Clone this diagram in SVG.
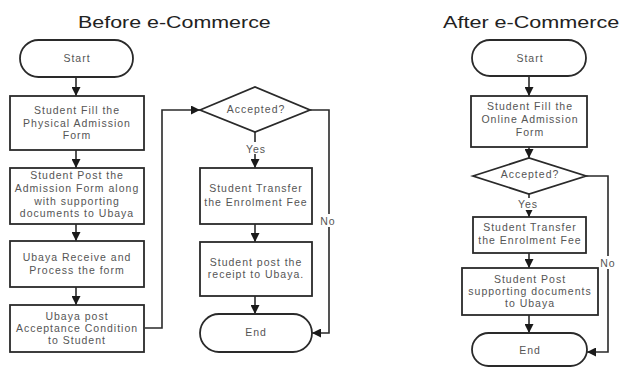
<svg xmlns="http://www.w3.org/2000/svg" width="624" height="367" viewBox="0 0 624 367">
<style>
.shape{fill:#fff;stroke:#2a2a2a;stroke-width:1.8}
.line{fill:none;stroke:#2a2a2a;stroke-width:1.6}
.arr{marker-end:url(#ah)}
text{font-family:"Liberation Sans",Arial,sans-serif;fill:#555;text-anchor:middle}
.t{font-size:10.5px;letter-spacing:1px}
.title{font-size:17px;fill:#222;text-anchor:start}
.lbl{fill:#fff;stroke:none}
</style>
<defs>
<marker id="ah" viewBox="0 0 10 10" refX="10" refY="5" markerWidth="9" markerHeight="9" markerUnits="userSpaceOnUse" orient="auto">
<path d="M0,0 L10,5 L0,10 z" fill="#1a1a1a"/>
</marker>
</defs>
<rect width="624" height="367" fill="#fff"/>

<text class="title" transform="translate(78,28) scale(1.26,1)" x="0" y="0">Before e-Commerce</text>
<text class="title" transform="translate(443,28) scale(1.27,1)" x="0" y="0">After e-Commerce</text>

<g id="connectors">
<line class="line arr" x1="76" y1="77" x2="76" y2="96"/>
<line class="line arr" x1="76" y1="150" x2="76" y2="168"/>
<line class="line arr" x1="76" y1="224" x2="76" y2="241"/>
<line class="line arr" x1="76" y1="287" x2="76" y2="305"/>
<polyline class="line arr" points="145,328 162,328 162,110 200,110"/>
<line class="line arr" x1="255" y1="132" x2="255" y2="168"/>
<line class="line arr" x1="255" y1="224" x2="255" y2="242"/>
<line class="line arr" x1="255" y1="296" x2="255" y2="314"/>
<polyline class="line arr" points="310,110 329,110 329,333 312,333"/>
<rect class="lbl" x="245" y="142" width="20" height="12"/>
<text class="t" x="256" y="153">Yes</text>
<rect class="lbl" x="319" y="214" width="18" height="13"/>
<text class="t" x="328" y="225">No</text>

<line class="line arr" x1="529" y1="76" x2="529" y2="96"/>
<line class="line arr" x1="529" y1="147" x2="529" y2="158"/>
<line class="line arr" x1="529" y1="194" x2="529" y2="217"/>
<line class="line arr" x1="529" y1="253" x2="529" y2="268"/>
<line class="line arr" x1="529" y1="315" x2="529" y2="333"/>
<polyline class="line arr" points="586,176 608,176 608,352 587,352"/>
<rect class="lbl" x="517" y="198" width="22" height="12"/>
<text class="t" x="528" y="208">Yes</text>
<rect class="lbl" x="598" y="256" width="20" height="13"/>
<text class="t" x="608" y="267">No</text>
</g>

<g id="b_start">
<rect class="shape" x="20" y="40" width="113" height="37" rx="18.5"/>
<text class="t" x="77" y="62">Start</text>
</g>
<g id="b_fill">
<rect class="shape" x="10" y="96" width="134" height="54"/>
<text class="t" x="77" y="114">Student Fill the</text>
<text class="t" x="77" y="127">Physical Admission</text>
<text class="t" x="77" y="139">Form</text>
</g>
<g id="b_post">
<rect class="shape" x="10" y="168" width="134" height="56"/>
<text class="t" x="77" y="179">Student Post the</text>
<text class="t" x="77" y="192">Admission Form along</text>
<text class="t" x="77" y="205">with supporting</text>
<text class="t" x="77" y="217">documents to Ubaya</text>
</g>
<g id="b_receive">
<rect class="shape" x="10" y="241" width="134" height="46"/>
<text class="t" x="77" y="261">Ubaya Receive and</text>
<text class="t" x="77" y="274">Process the form</text>
</g>
<g id="b_accept">
<rect class="shape" x="10" y="305" width="134" height="47"/>
<text class="t" x="77" y="320">Ubaya post</text>
<text class="t" x="77" y="332">Acceptance Condition</text>
<text class="t" x="77" y="344">to Student</text>
</g>
<g id="b_dec">
<polygon class="shape" points="200,110 255,87 310,110 255,132"/>
<text class="t" x="256" y="113">Accepted?</text>
</g>
<g id="b_transfer">
<rect class="shape" x="200" y="168" width="112" height="56"/>
<text class="t" x="256" y="192">Student Transfer</text>
<text class="t" x="256" y="206">the Enrolment Fee</text>
</g>
<g id="b_receipt">
<rect class="shape" x="200" y="242" width="112" height="54"/>
<text class="t" x="256" y="266">Student post the</text>
<text class="t" x="256" y="278">receipt to Ubaya.</text>
</g>
<g id="b_end">
<rect class="shape" x="200" y="314" width="112" height="38" rx="19"/>
<text class="t" x="256" y="336">End</text>
</g>

<g id="a_start">
<rect class="shape" x="472" y="40" width="114" height="36" rx="18"/>
<text class="t" x="530" y="62">Start</text>
</g>
<g id="a_fill">
<rect class="shape" x="471" y="96" width="116" height="51"/>
<text class="t" x="530" y="110">Student Fill the</text>
<text class="t" x="530" y="123">Online Admission</text>
<text class="t" x="530" y="136">Form</text>
</g>
<g id="a_dec">
<polygon class="shape" points="473,176 529,158 586,176 529,194"/>
<text class="t" x="530" y="178">Accepted?</text>
</g>
<g id="a_transfer">
<rect class="shape" x="473" y="217" width="113" height="36"/>
<text class="t" x="530" y="231">Student Transfer</text>
<text class="t" x="530" y="244">the Enrolment Fee</text>
</g>
<g id="a_post">
<rect class="shape" x="462" y="268" width="136" height="47"/>
<text class="t" x="530" y="283">Student Post</text>
<text class="t" x="530" y="295">supporting documents</text>
<text class="t" x="530" y="307">to Ubaya</text>
</g>
<g id="a_end">
<rect class="shape" x="472" y="333" width="115" height="33" rx="16.5"/>
<text class="t" x="530" y="354">End</text>
</g>
</svg>
